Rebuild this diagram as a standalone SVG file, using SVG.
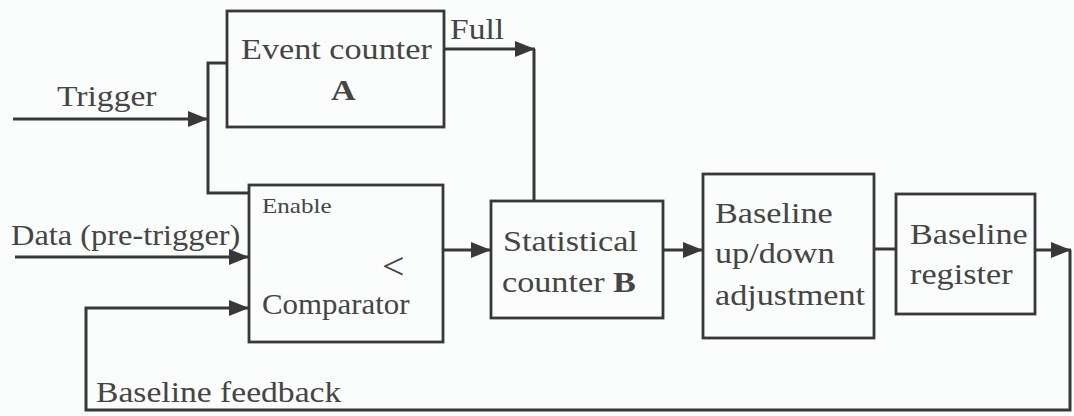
<svg xmlns="http://www.w3.org/2000/svg" width="1074" height="416" viewBox="0 0 1074 416">
<defs>
<marker id="ah" markerUnits="userSpaceOnUse" markerWidth="22" markerHeight="18" refX="20" refY="9" orient="auto">
<path d="M0,1 L20,9 L0,17 z" fill="#383838"/>
</marker>
<style>
.box{fill:none;stroke:#383838;stroke-width:2.8}
.ln{fill:none;stroke:#383838;stroke-width:3}
.t{font-family:"Liberation Serif","Times New Roman",serif;font-size:30px;fill:#454545}
.s{font-family:"Liberation Serif","Times New Roman",serif;font-size:22px;fill:#454545}
.lt{font-family:"Liberation Serif","Times New Roman",serif;font-size:38px;fill:#454545}
</style>
</defs>
<rect width="1074" height="416" fill="#fbfcfc"/>
<g id="connectors">
<line class="ln" x1="13" y1="119" x2="208" y2="119" marker-end="url(#ah)"/>
<polyline class="ln" points="227,63 208,63 208,193 249,193"/>
<line class="ln" x1="444" y1="49" x2="535" y2="49" marker-end="url(#ah)"/>
<line class="ln" x1="534" y1="49" x2="534" y2="201"/>
<line class="ln" x1="15" y1="257" x2="249" y2="257" marker-end="url(#ah)"/>
<line class="ln" x1="443" y1="250" x2="491" y2="250" marker-end="url(#ah)"/>
<line class="ln" x1="663" y1="250" x2="703" y2="250" marker-end="url(#ah)"/>
<line class="ln" x1="874" y1="249" x2="896" y2="249"/>
<line class="ln" x1="1035" y1="250" x2="1071" y2="250" marker-end="url(#ah)"/>
<polyline class="ln" points="1070,250 1070,410 86,410 86,308 249,308" marker-end="url(#ah)"/>
<text class="t" transform="translate(57 106) scale(1.12 1)">Trigger</text>
<text class="t" transform="translate(450 39) scale(1.12 1)">Full</text>
<text class="t" transform="translate(11 245) scale(1.08 1)">Data (pre-trigger)</text>
<text class="t" transform="translate(96 402) scale(1.12 1)">Baseline feedback</text>
</g>
<g id="event-counter">
<rect class="box" x="227" y="11" width="217" height="116"/>
<text class="t" transform="translate(241 59) scale(1.14 1)">Event counter</text>
<text class="t" transform="translate(331 100) scale(1.14 1)" font-weight="bold">A</text>
</g>
<g id="comparator">
<rect class="box" x="249" y="185" width="194" height="157"/>
<text class="s" transform="translate(262 213) scale(1.14 1)">Enable</text>
<text class="lt" transform="translate(382 279) scale(1.05 1)">&lt;</text>
<text class="t" transform="translate(262 314) scale(1.03 1)">Comparator</text>
</g>
<g id="statistical-counter">
<rect class="box" x="491" y="201" width="172" height="117"/>
<text class="t" transform="translate(503 251) scale(1.14 1)">Statistical</text>
<text class="t" transform="translate(502 292) scale(1.14 1)">counter <tspan font-weight="bold">B</tspan></text>
</g>
<g id="baseline-adjustment">
<rect class="box" x="703" y="174" width="171" height="164"/>
<text class="t" transform="translate(715 223) scale(1.14 1)">Baseline</text>
<text class="t" transform="translate(715 263) scale(1.14 1)">up/down</text>
<text class="t" transform="translate(715 305) scale(1.14 1)">adjustment</text>
</g>
<g id="baseline-register">
<rect class="box" x="896" y="194" width="139" height="120"/>
<text class="t" transform="translate(910 244) scale(1.14 1)">Baseline</text>
<text class="t" transform="translate(910 284) scale(1.14 1)">register</text>
</g>
</svg>
